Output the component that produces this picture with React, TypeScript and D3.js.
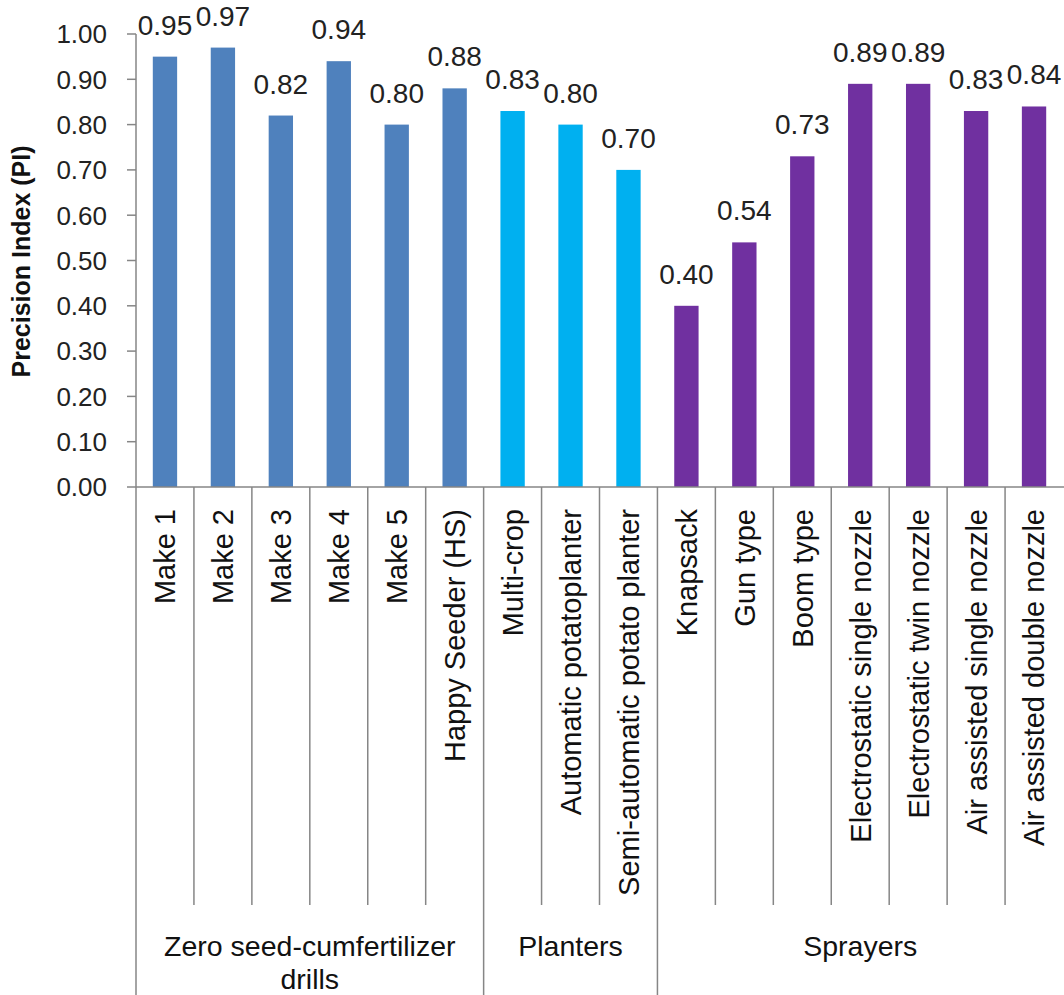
import React, { useEffect, useRef } from 'react';
import * as d3 from 'd3';

const categories = [
    "Make 1", "Make 2", "Make 3", "Make 4", "Make 5", "Happy Seeder (HS)",
    "Multi-crop", "Automatic potatoplanter", "Semi-automatic potato planter",
    "Knapsack", "Gun type", "Boom type", "Electrostatic single nozzle",
    "Electrostatic twin nozzle", "Air assisted single nozzle", "Air assisted double nozzle"
];
const values = [0.95, 0.97, 0.82, 0.94, 0.80, 0.88, 0.83, 0.80, 0.70, 0.40, 0.54, 0.73, 0.89, 0.89, 0.83, 0.84];

const groupLines = [["Zero seed-cumfertilizer", "drills"], ["Planters"], ["Sprayers"]];
const groupSizes = [6, 3, 7];
const groupColors = ["#4F81BD", "#00B0F0", "#7030A0"];

const yTicks = [0, 0.1, 0.2, 0.3, 0.4, 0.5, 0.6, 0.7, 0.8, 0.9, 1.0];

const FONT = "'Liberation Sans', Arial, sans-serif";

const App: React.FC = () => {
    const svgRef = useRef<SVGSVGElement>(null);

    useEffect(() => {
        if (!svgRef.current) return;
        const svg = d3.select(svgRef.current);
        svg.selectAll("*").remove();

        const width = 1064;
        const height = 995;
        const margin = { top: 34, right: 1, bottom: 508, left: 136 };
        const axisColor = "#868686";

        const x = d3.scaleBand()
            .domain(categories)
            .range([margin.left, width - margin.right])
            .paddingInner(0)
            .paddingOuter(0);

        const y = d3.scaleLinear()
            .domain([0, 1])
            .range([height - margin.bottom, margin.top]);

        const y0 = y(0);
        const barW = x.bandwidth() * 0.42;

        // group index for each category
        const groupOf: number[] = [];
        groupSizes.forEach((n, g) => { for (let i = 0; i < n; i++) groupOf.push(g); });

        // Bars
        svg.append("g")
            .selectAll("rect")
            .data(values)
            .join("rect")
            .attr("x", (d, i) => x(categories[i])! + (x.bandwidth() - barW) / 2)
            .attr("y", d => y(d))
            .attr("width", barW)
            .attr("height", d => y0 - y(d))
            .attr("fill", (d, i) => groupColors[groupOf[i]]);

        // Value labels
        svg.append("g")
            .selectAll("text")
            .data(values)
            .join("text")
            .attr("x", (d, i) => x(categories[i])! + x.bandwidth() / 2)
            .attr("y", d => y(d) - 22)
            .attr("text-anchor", "middle")
            .attr("font-family", FONT)
            .attr("font-size", "28px")
            .attr("fill", "#222")
            .text(d => d.toFixed(2));

        // Y axis
        const yAxis = svg.append("g");
        yAxis.append("line")
            .attr("x1", margin.left).attr("x2", margin.left)
            .attr("y1", margin.top).attr("y2", height)
            .attr("stroke", axisColor).attr("stroke-width", 1.5);
        yAxis.selectAll("line.tick")
            .data(yTicks)
            .join("line")
            .attr("class", "tick")
            .attr("x1", margin.left - 9).attr("x2", margin.left)
            .attr("y1", d => y(d)).attr("y2", d => y(d))
            .attr("stroke", axisColor).attr("stroke-width", 1.5);
        yAxis.selectAll("text")
            .data(yTicks)
            .join("text")
            .attr("x", 107)
            .attr("y", d => y(d))
            .attr("dy", "0.36em")
            .attr("text-anchor", "end")
            .attr("font-family", FONT)
            .attr("font-size", "26px")
            .attr("fill", "#222")
            .text(d => d.toFixed(2));

        // Y axis title
        svg.append("text")
            .attr("transform", `translate(30,${(margin.top + y0) / 2 + 1}) rotate(-90)`)
            .attr("text-anchor", "middle")
            .attr("font-family", FONT)
            .attr("font-weight", "bold")
            .attr("font-size", "25px")
            .attr("fill", "#111")
            .text("Precision Index (PI)");

        // X axis baseline
        svg.append("line")
            .attr("x1", margin.left).attr("x2", width)
            .attr("y1", y0).attr("y2", y0)
            .attr("stroke", axisColor).attr("stroke-width", 1.5);

        // Dividers between categories
        const groupStarts = d3.cumsum(groupSizes).slice(0, -1);
        const dividers = d3.range(1, categories.length);
        svg.append("g")
            .selectAll("line")
            .data(dividers)
            .join("line")
            .attr("x1", i => x(categories[i])!)
            .attr("x2", i => x(categories[i])!)
            .attr("y1", y0)
            .attr("y2", i => groupStarts.includes(i) ? height : 905)
            .attr("stroke", axisColor)
            .attr("stroke-width", 1.5);

        // Category labels (rotated)
        svg.append("g")
            .selectAll("text")
            .data(categories)
            .join("text")
            .attr("transform", d => `translate(${x(d)! + x.bandwidth() / 2},${y0 + 22}) rotate(-90)`)
            .attr("dy", "0.36em")
            .attr("text-anchor", "end")
            .attr("font-family", FONT)
            .attr("font-size", "29px")
            .attr("fill", "#111")
            .text(d => d);

        // Group labels
        let start = 0;
        groupSizes.forEach((n, g) => {
            const x1 = x(categories[start])!;
            const x2 = x(categories[start + n - 1])! + x.bandwidth();
            const t = svg.append("text")
                .attr("text-anchor", "middle")
                .attr("font-family", FONT)
                .attr("font-size", "28.5px")
                .attr("fill", "#111");
            groupLines[g].forEach((line, k) => {
                t.append("tspan")
                    .attr("x", (x1 + x2) / 2)
                    .attr("y", 956 + k * 33)
                    .text(line);
            });
            start += n;
        });
    }, []);

    return (
        <svg
            ref={svgRef}
            width={1064}
            height={995}
            style={{ position: "absolute", top: 0, left: 0, background: "#fff" }}
        />
    );
};

export default App;
